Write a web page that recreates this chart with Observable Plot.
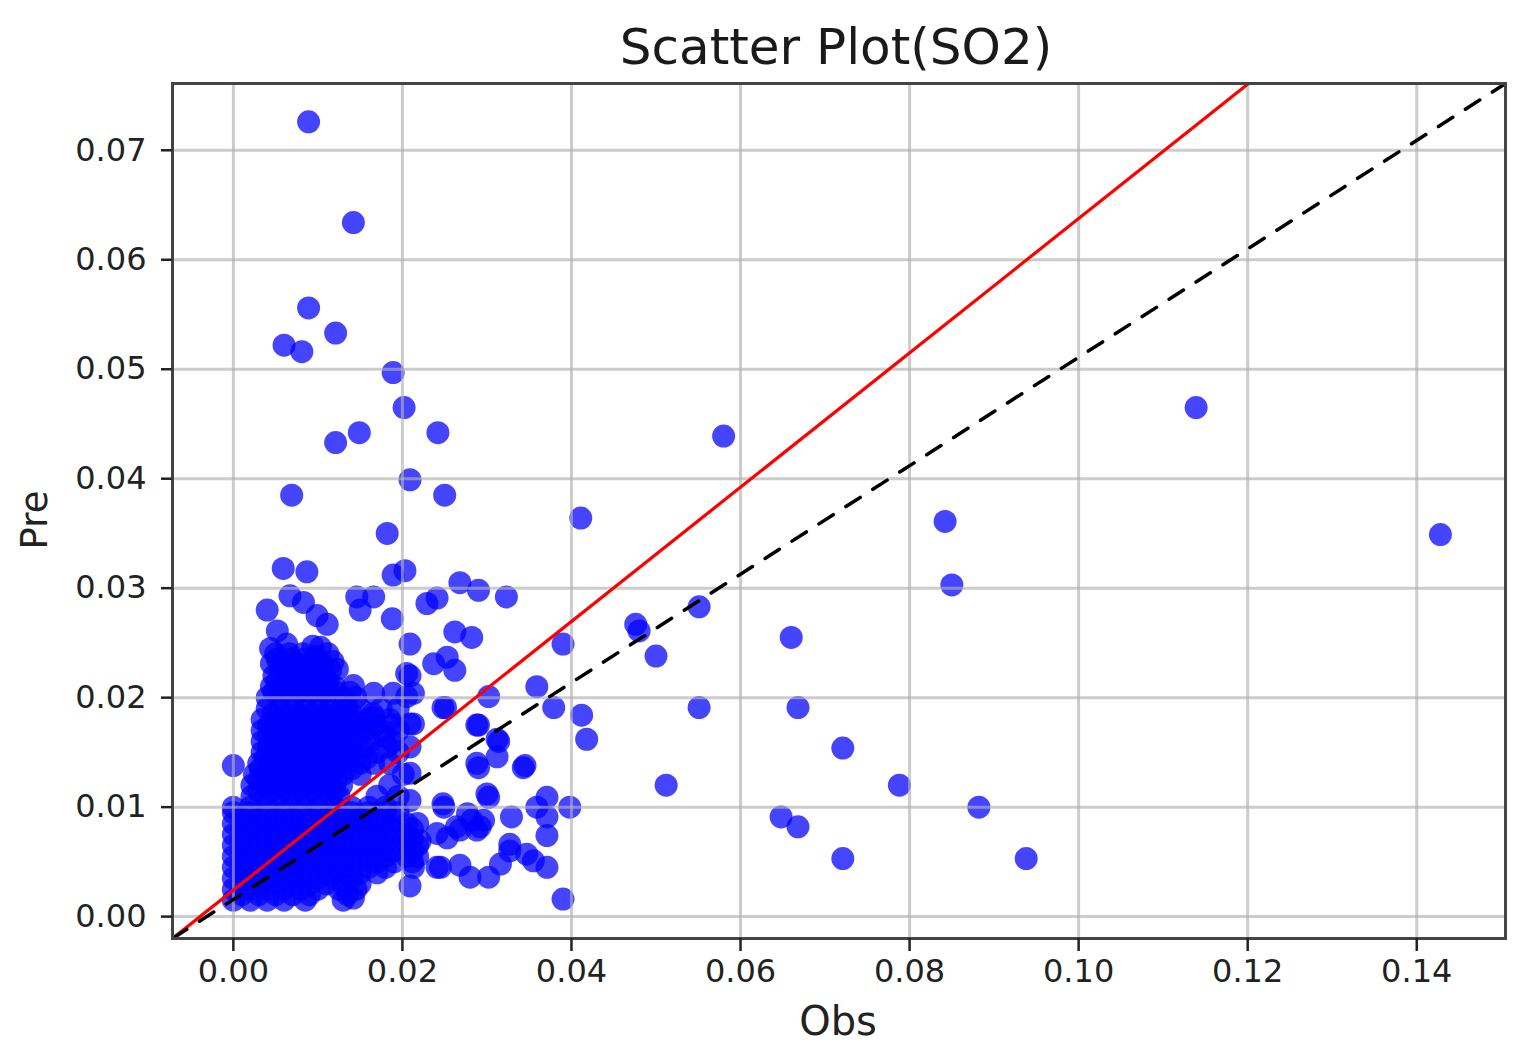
<!DOCTYPE html>
<html>
<head>
<meta charset="utf-8">
<script src="https://cdn.jsdelivr.net/npm/d3@7"></script>
<script src="https://cdn.jsdelivr.net/npm/@observablehq/plot@0.6"></script>
<style>
  html, body { margin: 0; padding: 0; background: #fff; }
  #chart svg { display: block; }
</style>
</head>
<body>
<div id="chart"></div>
<script>
// ---- Data (Obs, Pre) ----
const rightOutliers = [
  [0.0580,0.0439],[0.1139,0.0465],[0.0842,0.0361],[0.0850,0.0303],[0.1428,0.0349],
  [0.0660,0.0255],[0.0551,0.0283],[0.0476,0.0267],[0.0480,0.0261],[0.0500,0.0238],
  [0.0551,0.0191],[0.0668,0.0191],[0.0721,0.0154],[0.0788,0.0120],[0.0512,0.0120],
  [0.0882,0.0100],[0.0648,0.0091],[0.0668,0.0082],[0.0721,0.0053],[0.0938,0.0053]
];
const upperOutliers = [
  [0.0089,0.0726],[0.0142,0.0634],[0.0089,0.0556],[0.0121,0.0533],[0.0060,0.0522],
  [0.0081,0.0516],[0.0189,0.0497],[0.0202,0.0465],[0.0121,0.0433],[0.0149,0.0442],
  [0.0242,0.0442],[0.0209,0.0399],[0.0069,0.0385],[0.0250,0.0385],[0.0182,0.0350],
  [0.0411,0.0364]
];
const middleCluster = [
  [0.0268,0.0305],[0.0290,0.0298],[0.0323,0.0292],[0.0229,0.0286],[0.0241,0.0291],
  [0.0262,0.0260],[0.0282,0.0255],[0.0209,0.0249],[0.0390,0.0249],[0.0237,0.0231],
  [0.0253,0.0237],[0.0262,0.0225],[0.0209,0.0220],[0.0359,0.0210],[0.0302,0.0201],
  [0.0205,0.0201],[0.0251,0.0191],[0.0379,0.0191],[0.0412,0.0184],[0.0418,0.0162],
  [0.0290,0.0175],[0.0312,0.0162],[0.0314,0.0160],[0.0312,0.0146],[0.0290,0.0136],
  [0.0343,0.0136],[0.0345,0.0138],[0.0209,0.0176],[0.0209,0.0155],[0.0209,0.0131],
  [0.0209,0.0106],[0.0302,0.0109],[0.0249,0.0100],[0.0371,0.0109],[0.0398,0.0100],
  [0.0359,0.0100],[0.0329,0.0091],[0.0371,0.0091],[0.0371,0.0074],[0.0282,0.0088],
  [0.0264,0.0082],[0.0292,0.0082],[0.0253,0.0072],[0.0221,0.0069],[0.0327,0.0066],
  [0.0327,0.0060],[0.0347,0.0057],[0.0371,0.0045],[0.0355,0.0051],[0.0241,0.0045],
  [0.0268,0.0047],[0.0280,0.0036],[0.0302,0.0036],[0.0316,0.0048],[0.0209,0.0028],
  [0.0390,0.0016],[0.0248,0.0103],[0.0277,0.0094],[0.0268,0.0079],[0.0288,0.0079],
  [0.0296,0.0088],[0.0241,0.0076],[0.0213,0.0045],[0.0245,0.0045],[0.0288,0.0175],
  [0.0248,0.0191],[0.0213,0.0204],[0.0288,0.0140],[0.0300,0.0112],[0.0189,0.0312],
  [0.0203,0.0316],[0.0205,0.0222],[0.0213,0.0176]
];
const columnTop = [
  [0.0059,0.0318],[0.0087,0.0315],[0.0067,0.0293],[0.0083,0.0287],[0.0040,0.0280],
  [0.0146,0.0292],[0.0166,0.0292],[0.0150,0.0280],[0.0188,0.0272],[0.0099,0.0275],
  [0.0111,0.0267],[0.0052,0.0261],[0.0044,0.0245],[0.0063,0.0249],[0.0094,0.0247],
  [0.0103,0.0246],[0.0123,0.0226],[0.0142,0.0211],[0.0111,0.0210],[0.0166,0.0204],
  [0.0189,0.0204],[0.0134,0.0191],[0.0166,0.0182]
];
const columnCore = [
  [0.0050,0.0240],[0.0066,0.0240],[0.0082,0.0240],[0.0098,0.0238],[0.0112,0.0240],
  [0.0045,0.0231],[0.0060,0.0231],[0.0075,0.0231],[0.0090,0.0231],[0.0105,0.0231],[0.0118,0.0233],
  [0.0048,0.0220],[0.0062,0.0220],[0.0078,0.0220],[0.0093,0.0220],[0.0108,0.0220],
  [0.0045,0.0210],[0.0060,0.0210],[0.0075,0.0210],[0.0090,0.0210],[0.0105,0.0210],[0.0120,0.0210],
  [0.0040,0.0200],[0.0055,0.0200],[0.0070,0.0200],[0.0085,0.0200],[0.0100,0.0200],
  [0.0115,0.0200],[0.0130,0.0200],[0.0145,0.0200]
];
const columnFill = [
  [0.0052,0.0235],[0.0068,0.0235],[0.0083,0.0235],[0.0098,0.0235],
  [0.0055,0.0225],[0.0070,0.0225],[0.0085,0.0225],[0.0100,0.0225],[0.0115,0.0225],
  [0.0052,0.0215],[0.0068,0.0215],[0.0083,0.0215],[0.0098,0.0215],[0.0112,0.0215],
  [0.0048,0.0205],[0.0062,0.0205],[0.0078,0.0205],[0.0092,0.0205],[0.0108,0.0205],
  [0.0122,0.0205],[0.0138,0.0205]
];
const blockUpper = [
  [0.0040,0.0190],[0.0055,0.0190],[0.0070,0.0190],[0.0085,0.0190],[0.0100,0.0190],
  [0.0115,0.0190],[0.0130,0.0190],[0.0150,0.0190],[0.0175,0.0190],[0.0195,0.0190],
  [0.0034,0.0180],[0.0050,0.0180],[0.0065,0.0180],[0.0080,0.0180],[0.0095,0.0180],
  [0.0110,0.0180],[0.0125,0.0180],[0.0140,0.0180],[0.0160,0.0180],[0.0185,0.0180],
  [0.0034,0.0170],[0.0050,0.0170],[0.0065,0.0170],[0.0080,0.0170],[0.0095,0.0170],
  [0.0110,0.0170],[0.0125,0.0170],[0.0140,0.0170],[0.0155,0.0170],[0.0175,0.0170],[0.0195,0.0170],
  [0.0034,0.0160],[0.0050,0.0160],[0.0065,0.0160],[0.0080,0.0160],[0.0095,0.0160],
  [0.0110,0.0160],[0.0125,0.0160],[0.0140,0.0160],[0.0162,0.0160],[0.0189,0.0160],
  [0.0034,0.0150],[0.0050,0.0150],[0.0065,0.0150],[0.0080,0.0150],[0.0095,0.0150],
  [0.0110,0.0150],[0.0125,0.0150],[0.0140,0.0150],[0.0170,0.0150],[0.0195,0.0150],
  [0.0030,0.0140],[0.0045,0.0140],[0.0060,0.0140],[0.0075,0.0140],[0.0090,0.0140],
  [0.0105,0.0140],[0.0120,0.0140],[0.0135,0.0140],[0.0150,0.0140],[0.0166,0.0140],[0.0185,0.0140],
  [0.0025,0.0130],[0.0040,0.0130],[0.0055,0.0130],[0.0070,0.0130],[0.0085,0.0130],
  [0.0100,0.0130],[0.0115,0.0130],[0.0130,0.0130],[0.0150,0.0130],[0.0201,0.0130],
  [0.0022,0.0120],[0.0038,0.0120],[0.0054,0.0120],[0.0070,0.0120],[0.0085,0.0120],
  [0.0100,0.0120],[0.0115,0.0120],[0.0128,0.0120],[0.0185,0.0120],
  [0.0022,0.0110],[0.0038,0.0110],[0.0054,0.0110],[0.0070,0.0110],[0.0085,0.0110],
  [0.0100,0.0110],[0.0115,0.0110],[0.0125,0.0110],[0.0170,0.0110],[0.0195,0.0110],
  [0.0000,0.0138]
];
const blockUpperFill = [
  [0.0047,0.0185],[0.0062,0.0185],[0.0077,0.0185],[0.0092,0.0185],[0.0107,0.0185],
  [0.0122,0.0185],[0.0140,0.0185],[0.0165,0.0185],
  [0.0042,0.0175],[0.0057,0.0175],[0.0072,0.0175],[0.0087,0.0175],[0.0102,0.0175],
  [0.0117,0.0175],[0.0132,0.0175],[0.0148,0.0175],[0.0168,0.0175],[0.0188,0.0175],
  [0.0042,0.0165],[0.0057,0.0165],[0.0072,0.0165],[0.0087,0.0165],[0.0102,0.0165],
  [0.0117,0.0165],[0.0132,0.0165],[0.0150,0.0165],[0.0178,0.0165],
  [0.0042,0.0155],[0.0057,0.0155],[0.0072,0.0155],[0.0087,0.0155],[0.0102,0.0155],
  [0.0117,0.0155],[0.0132,0.0155],[0.0155,0.0155],[0.0182,0.0155],
  [0.0038,0.0145],[0.0053,0.0145],[0.0068,0.0145],[0.0083,0.0145],[0.0098,0.0145],
  [0.0113,0.0145],[0.0128,0.0145],[0.0143,0.0145],[0.0158,0.0145],
  [0.0032,0.0135],[0.0047,0.0135],[0.0062,0.0135],[0.0077,0.0135],[0.0092,0.0135],
  [0.0107,0.0135],[0.0122,0.0135],[0.0140,0.0135],
  [0.0030,0.0125],[0.0046,0.0125],[0.0062,0.0125],[0.0078,0.0125],[0.0093,0.0125],
  [0.0108,0.0125],[0.0122,0.0125],
  [0.0030,0.0115],[0.0046,0.0115],[0.0062,0.0115],[0.0078,0.0115],[0.0093,0.0115],
  [0.0108,0.0115],[0.0120,0.0115]
];
const blockLower = [
  [0.0000,0.0015],[0.0020,0.0015],[0.0040,0.0015],[0.0060,0.0015],[0.0085,0.0015],
  [0.0130,0.0015],[0.0142,0.0017],
  [0.0000,0.0025],[0.0020,0.0025],[0.0040,0.0025],[0.0060,0.0025],[0.0080,0.0025],
  [0.0100,0.0025],[0.0125,0.0025],[0.0145,0.0025],
  [0.0000,0.0035],[0.0020,0.0035],[0.0040,0.0035],[0.0060,0.0035],[0.0080,0.0035],
  [0.0100,0.0035],[0.0120,0.0035],[0.0140,0.0035],
  [0.0000,0.0045],[0.0020,0.0045],[0.0040,0.0045],[0.0060,0.0045],[0.0080,0.0045],
  [0.0100,0.0045],[0.0120,0.0045],[0.0140,0.0045],[0.0160,0.0045],[0.0180,0.0045],
  [0.0000,0.0055],[0.0020,0.0055],[0.0040,0.0055],[0.0060,0.0055],[0.0080,0.0055],
  [0.0100,0.0055],[0.0120,0.0055],[0.0140,0.0055],[0.0160,0.0055],[0.0180,0.0055],
  [0.0205,0.0055],[0.0218,0.0055],
  [0.0000,0.0065],[0.0020,0.0065],[0.0040,0.0065],[0.0060,0.0065],[0.0080,0.0065],
  [0.0100,0.0065],[0.0120,0.0065],[0.0140,0.0065],[0.0160,0.0065],[0.0180,0.0065],
  [0.0205,0.0065],[0.0218,0.0065],
  [0.0000,0.0075],[0.0020,0.0075],[0.0040,0.0075],[0.0060,0.0075],[0.0080,0.0075],
  [0.0100,0.0075],[0.0120,0.0075],[0.0140,0.0075],[0.0160,0.0075],[0.0180,0.0075],
  [0.0205,0.0075],
  [0.0000,0.0085],[0.0020,0.0085],[0.0040,0.0085],[0.0060,0.0085],[0.0080,0.0085],
  [0.0100,0.0085],[0.0120,0.0085],[0.0140,0.0085],[0.0160,0.0085],[0.0180,0.0085],
  [0.0205,0.0085],[0.0218,0.0085],
  [0.0000,0.0095],[0.0020,0.0095],[0.0040,0.0095],[0.0060,0.0095],[0.0080,0.0095],
  [0.0100,0.0095],[0.0120,0.0095],[0.0140,0.0095],[0.0160,0.0095],[0.0180,0.0095],
  [0.0195,0.0095],
  [0.0000,0.0100],[0.0020,0.0100],[0.0040,0.0100],[0.0060,0.0100],[0.0080,0.0100],
  [0.0100,0.0100],[0.0120,0.0100],[0.0140,0.0100],[0.0160,0.0100],[0.0180,0.0100]
];
const blockLowerFill = [
  [0.0010,0.0020],[0.0030,0.0020],[0.0050,0.0020],[0.0070,0.0020],[0.0090,0.0020],[0.0135,0.0020],
  [0.0010,0.0030],[0.0030,0.0030],[0.0050,0.0030],[0.0070,0.0030],[0.0090,0.0030],
  [0.0110,0.0030],[0.0130,0.0030],[0.0150,0.0030],
  [0.0010,0.0040],[0.0030,0.0040],[0.0050,0.0040],[0.0070,0.0040],[0.0090,0.0040],
  [0.0110,0.0040],[0.0130,0.0040],[0.0150,0.0040],[0.0170,0.0040],
  [0.0010,0.0050],[0.0030,0.0050],[0.0050,0.0050],[0.0070,0.0050],[0.0090,0.0050],
  [0.0110,0.0050],[0.0130,0.0050],[0.0150,0.0050],[0.0170,0.0050],[0.0190,0.0050],[0.0212,0.0050],
  [0.0010,0.0060],[0.0030,0.0060],[0.0050,0.0060],[0.0070,0.0060],[0.0090,0.0060],
  [0.0110,0.0060],[0.0130,0.0060],[0.0150,0.0060],[0.0170,0.0060],[0.0190,0.0060],[0.0212,0.0060],
  [0.0010,0.0070],[0.0030,0.0070],[0.0050,0.0070],[0.0070,0.0070],[0.0090,0.0070],
  [0.0110,0.0070],[0.0130,0.0070],[0.0150,0.0070],[0.0170,0.0070],[0.0190,0.0070],[0.0212,0.0070],
  [0.0010,0.0080],[0.0030,0.0080],[0.0050,0.0080],[0.0070,0.0080],[0.0090,0.0080],
  [0.0110,0.0080],[0.0130,0.0080],[0.0150,0.0080],[0.0170,0.0080],[0.0190,0.0080],[0.0212,0.0080],
  [0.0010,0.0090],[0.0030,0.0090],[0.0050,0.0090],[0.0070,0.0090],[0.0090,0.0090],
  [0.0110,0.0090],[0.0130,0.0090],[0.0150,0.0090],[0.0170,0.0090],[0.0190,0.0090]
];

// Fitted (red) and reference (dashed) lines: endpoints at the plot edges
const fitObs = [-0.0072, 0.1201];
const fitPre = [-0.0020, 0.0761];
const refObs = [-0.0072, 0.1505];
const refPre = [-0.0020, 0.0761];

// Axes
const xTicks = [0, 0.02, 0.04, 0.06, 0.08, 0.10, 0.12, 0.14];
const yTicks = [0, 0.01, 0.02, 0.03, 0.04, 0.05, 0.06, 0.07];
const xDomain = [-0.0072, 0.1505];
const yDomain = [-0.0020, 0.0761];

const titleText = "Scatter Plot(SO2)";
const xLabel = "Obs";
const yLabel = "Pre";

// ---- Build ----
const points = [
  ...blockLower, ...blockLowerFill, ...blockUpper, ...blockUpperFill,
  ...columnCore, ...columnFill, ...columnTop,
  ...middleCluster, ...upperOutliers, ...rightOutliers
].map(([obs, pre]) => ({obs, pre}));
const fitLine = fitObs.map((o, i) => ({obs: o, pre: fitPre[i]}));
const refLine = refObs.map((o, i) => ({obs: o, pre: refPre[i]}));

const fmt = d3.format(".2f");
const chart = Plot.plot({
  width: 1522,
  height: 1053,
  marginLeft: 172,
  marginRight: 17,
  marginTop: 83,
  marginBottom: 115,
  style: {fontFamily: "DejaVu Sans", fontSize: "32px", color: "#222", background: "#fff"},
  x: {domain: xDomain},
  y: {domain: yDomain},
  marks: [
    Plot.dot(points, {x: "obs", y: "pre", r: 11.5, fill: "#0000ff", fillOpacity: 0.73, clip: true}),
    Plot.gridX(xTicks, {stroke: "#b0b0b0", strokeOpacity: 0.65, strokeWidth: 3}),
    Plot.gridY(yTicks, {stroke: "#b0b0b0", strokeOpacity: 0.65, strokeWidth: 3}),
    Plot.line(fitLine, {x: "obs", y: "pre", stroke: "#ff0000", strokeWidth: 3.2, clip: true}),
    Plot.line(refLine, {x: "obs", y: "pre", stroke: "#000", strokeWidth: 3.5, strokeDasharray: "17,15", clip: true}),
    Plot.frame({stroke: "#444", strokeWidth: 3}),
    Plot.axisX(xTicks, {tickFormat: fmt, tickSize: 13, tickPadding: 8, strokeWidth: 2.5, label: null, fontSize: 32}),
    Plot.axisY(yTicks, {tickFormat: fmt, tickSize: 11, tickPadding: 15, strokeWidth: 2.5, label: null, fontSize: 32})
  ]
});

const svg = d3.select(chart);
svg.append("text")
  .attr("x", 836).attr("y", 64)
  .attr("text-anchor", "middle")
  .attr("font-family", "DejaVu Sans").attr("font-size", 50).attr("fill", "#1a1a1a")
  .text(titleText);
svg.append("text")
  .attr("x", 838).attr("y", 1035)
  .attr("text-anchor", "middle")
  .attr("font-family", "DejaVu Sans").attr("font-size", 40).attr("fill", "#222")
  .text(xLabel);
svg.append("text")
  .attr("transform", "translate(47,520) rotate(-90)")
  .attr("text-anchor", "middle")
  .attr("font-family", "DejaVu Sans").attr("font-size", 37).attr("fill", "#222")
  .text(yLabel);

document.getElementById("chart").appendChild(chart);
</script>
</body>
</html>
